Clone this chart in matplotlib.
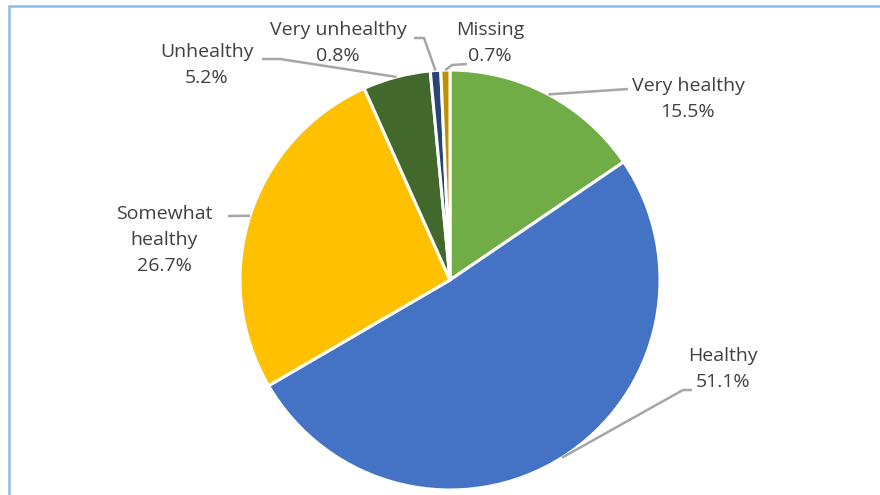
import numpy as np
import matplotlib.pyplot as plt
from matplotlib.patches import Rectangle

# health status shares (%)
categories = ["Very healthy", "Healthy", "Somewhat\nhealthy", "Unhealthy", "Very unhealthy", "Missing"]
shares = [15.5, 51.1, 26.7, 5.2, 0.8, 0.7]
colors = ["#70AD47", "#4472C4", "#FFC000", "#43682B", "#264478", "#BF9000"]

W, H = 880, 495
fig = plt.figure(figsize=(W / 100, H / 100), dpi=100)
ax = fig.add_axes([0, 0, 1, 1])

cx, cy, r = 450, H - 280, 210
wedges, _ = ax.pie(shares, colors=colors, startangle=90, counterclock=False,
                   center=(cx, cy), radius=r, frame=True,
                   wedgeprops=dict(edgecolor="white", linewidth=2.2))
ax.set_xlim(0, W)
ax.set_ylim(0, H)
ax.set_aspect("equal")
ax.axis("off")

# outer frame, only top/left edges show
ax.add_patch(Rectangle((9, -20), W + 20, H - 6 + 20, fill=False,
                       edgecolor="#8FBCE6", linewidth=1.8))

# label text centre and leader elbow points (image pixel coords)
text_pos = [(688, 99), (723, 369), (164, 240), (207, 65), (338, 43), (490, 43)]
elbows = [[(628, 89)], [(683, 390), (692, 390)], [(228, 216)],
          [(280, 59), (262, 59)], [(424, 38), (414, 38)], [(452, 65), (467, 64)]]

for w, name, val, (tx, ty), pts in zip(wedges, categories, shares, text_pos, elbows):
    ang = np.deg2rad((w.theta1 + w.theta2) / 2)
    x0, y0 = cx + r * np.cos(ang), cy + r * np.sin(ang)
    xs = [x0] + [p[0] for p in pts]
    ys = [y0] + [H - p[1] for p in pts]
    ax.plot(xs, ys, color="#A6A6A6", linewidth=1.8, solid_capstyle="butt")
    ax.text(tx, H - ty, f"{name}\n{val}%", ha="center", va="center",
            fontsize=14, color="#404040", family="Open Sans", linespacing=1.55)

fig.savefig("out.png", dpi=100)
